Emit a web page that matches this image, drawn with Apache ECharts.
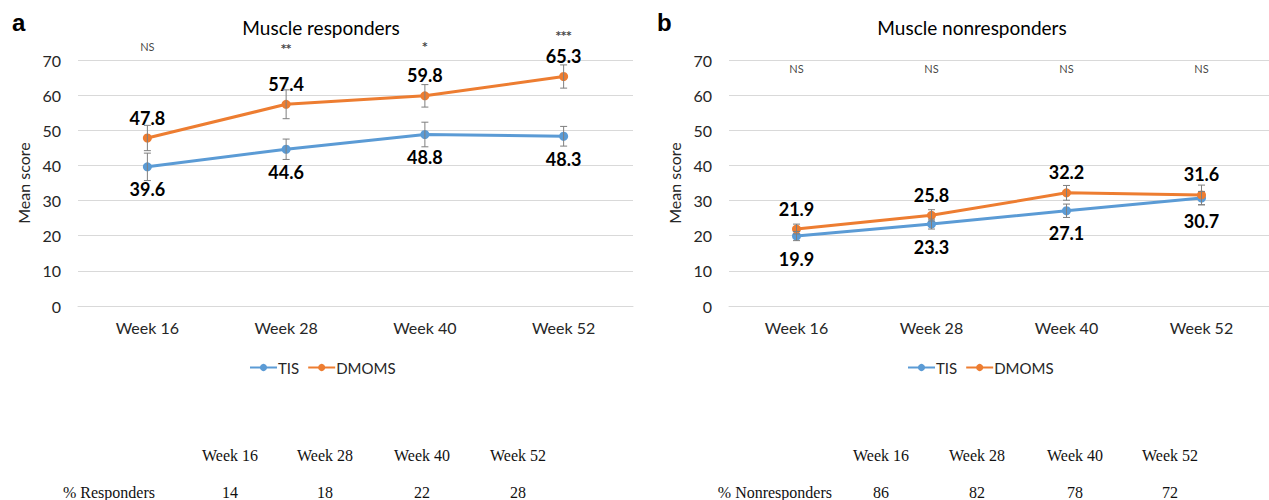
<!DOCTYPE html>
<html>
<head>
<meta charset="utf-8">
<script src="https://cdn.jsdelivr.net/npm/echarts@6/dist/echarts.min.js"></script>
<style>
html,body{margin:0;padding:0;background:#fff;}
#chart{width:1269px;height:500px;}
</style>
</head>
<body>
<div id="chart"></div>
<script>
// ---- data ----
const categories = ['Week 16', 'Week 28', 'Week 40', 'Week 52'];
const seriesNames = ['TIS', 'DMOMS'];
const respTIS = [39.6, 44.6, 48.8, 48.3];
const respDMOMS = [47.8, 57.4, 59.8, 65.3];
const respTISErr = [3.9, 2.9, 3.5, 2.8];
const respDMOMSErr = [3.6, 4.1, 3.2, 3.3];
const nonTIS = [19.9, 23.3, 27.1, 30.7];
const nonDMOMS = [21.9, 25.8, 32.2, 31.6];
const nonTISErr = [1.3, 1.4, 1.9, 1.9];
const nonDMOMSErr = [1.4, 1.6, 2.1, 2.8];
const respSig = ['NS', '**', '*', '***'];
const nonSig = ['NS', 'NS', 'NS', 'NS'];
const panelTitles = ['Muscle responders', 'Muscle nonresponders'];
const panelLetters = ['a', 'b'];
const yAxisName = 'Mean score';
const tableWeeks = ['Week 16', 'Week 28', 'Week 40', 'Week 52'];
const tableRowNames = ['% Responders', '% Nonresponders'];
const pctResponders = [14, 18, 22, 28];
const pctNonresponders = [86, 82, 78, 72];

// ---- styles / layout ----
const BLUE = '#5B9BD5', ORANGE = '#ED7D31', GREY = '#7f7f7f';
const FONT = 'Lato';
const grids = [
  {left: 78, top: 60, width: 555, height: 246},
  {left: 729, top: 60, width: 555, height: 246}
];

function errRender(params, api) {
  const x = api.value(0), y = api.value(1), e = api.value(2);
  const t = api.coord([x, y + e]);
  const b = api.coord([x, y - e]);
  const w = 3.5;
  const st = {stroke: GREY, lineWidth: 1};
  return {type: 'group', children: [
    {type: 'line', shape: {x1: t[0], y1: t[1], x2: b[0], y2: b[1]}, style: st},
    {type: 'line', shape: {x1: t[0] - w, y1: t[1], x2: t[0] + w, y2: t[1]}, style: st},
    {type: 'line', shape: {x1: b[0] - w, y1: b[1], x2: b[0] + w, y2: b[1]}, style: st}
  ]};
}

function lineSeries(name, color, data, idx, pos) {
  return {
    type: 'line', name: name, xAxisIndex: idx, yAxisIndex: idx,
    data: data, symbol: 'circle', symbolSize: 9,
    lineStyle: {color: color, width: 3}, itemStyle: {color: color},
    label: {show: true, position: pos, distance: pos === 'top' ? 7 : 9,
      color: '#000', fontFamily: FONT, fontWeight: 'bold', fontSize: 18,
      formatter: p => p.value.toFixed(1)},
    z: 3
  };
}
function errSeries(vals, errs, idx) {
  return {
    type: 'custom', xAxisIndex: idx, yAxisIndex: idx,
    renderItem: errRender, z: 5, silent: true,
    encode: {x: 0, y: 1},
    data: vals.map((v, i) => [i, v, errs[i]])
  };
}
function sigFmt(s) { return s === 'NS' ? '{ns|NS}' : '{st|' + s + '}'; }
function sigSeries(sig, levels, idx) {
  return {
    type: 'scatter', xAxisIndex: idx, yAxisIndex: idx, symbolSize: 0, clip: false, silent: true,
    data: sig.map((s, i) => ({value: [i, levels[i]], name: s})),
    label: {show: true, position: 'inside', formatter: p => sigFmt(p.name),
      rich: {
        ns: {fontFamily: FONT, fontSize: 11, color: '#111'},
        st: {fontFamily: 'DejaVu Sans', fontSize: 10, fontWeight: 'bold', color: '#111'}
      }}
  };
}

const sigLevelsA = [73.8, 73.4, 73.8, 77.0];
const sigLevelsB = [67.6, 67.6, 67.6, 67.6];

const xAxes = grids.map((g, i) => ({
  type: 'category', gridIndex: i, data: categories, boundaryGap: true,
  axisLine: {show: true, lineStyle: {color: '#d9d9d9', width: 1}},
  axisTick: {show: false},
  axisLabel: {color: '#262626', fontFamily: FONT, fontSize: 16, margin: 13}
}));
const yAxes = grids.map((g, i) => ({
  type: 'value', gridIndex: i, min: 0, max: 70, interval: 10,
  name: yAxisName, nameLocation: 'middle', nameRotate: 90, nameGap: 47,
  nameTextStyle: {color: '#262626', fontFamily: FONT, fontSize: 16},
  axisLine: {show: false}, axisTick: {show: false},
  axisLabel: {color: '#262626', fontFamily: FONT, fontSize: 16, margin: 17},
  splitLine: {lineStyle: {color: '#d9d9d9', width: 1}}
}));

const graphics = [];
const titleX = [321, 972];
panelTitles.forEach((t, i) => {
  graphics.push({type: 'text', x: titleX[i], y: 27,
    style: {text: t, fill: '#000', font: '19px ' + FONT, textAlign: 'center', textVerticalAlign: 'middle'}});
});
const letterX = [12, 657];
panelLetters.forEach((t, i) => {
  graphics.push({type: 'text', x: letterX[i], y: 22,
    style: {text: t, fill: '#000', font: 'bold 24px Liberation Sans', textAlign: 'left', textVerticalAlign: 'middle'}});
});
const tableCols = [[230, 325, 422, 518], [881, 977, 1075, 1170]];
const rowNameX = [155, 832];
const tableVals = [pctResponders, pctNonresponders];
const serif = '16px "Liberation Serif"';
[0, 1].forEach(p => {
  tableWeeks.forEach((w, i) => {
    graphics.push({type: 'text', x: tableCols[p][i], y: 455,
      style: {text: w, fill: '#111', font: serif, textAlign: 'center', textVerticalAlign: 'middle'}});
    graphics.push({type: 'text', x: tableCols[p][i], y: 492,
      style: {text: String(tableVals[p][i]), fill: '#111', font: serif, textAlign: 'center', textVerticalAlign: 'middle'}});
  });
  graphics.push({type: 'text', x: rowNameX[p], y: 492,
    style: {text: tableRowNames[p], fill: '#111', font: serif, textAlign: 'right', textVerticalAlign: 'middle'}});
});

const legendLeft = [244, 902];
const option = {
  animation: false,
  backgroundColor: '#fff',
  grid: grids,
  xAxis: xAxes,
  yAxis: yAxes,
  legend: legendLeft.map(l => ({
    data: seriesNames, left: l, top: 355, itemWidth: 27, itemHeight: 9, itemGap: 8,
    textStyle: {color: '#262626', fontFamily: FONT, fontSize: 15, padding: [0, 0, 0, -4]},
    selectedMode: false
  })),
  series: [
    lineSeries('TIS', BLUE, respTIS, 0, 'bottom'),
    lineSeries('DMOMS', ORANGE, respDMOMS, 0, 'top'),
    errSeries(respTIS, respTISErr, 0),
    errSeries(respDMOMS, respDMOMSErr, 0),
    sigSeries(respSig, sigLevelsA, 0),
    lineSeries('TIS', BLUE, nonTIS, 1, 'bottom'),
    lineSeries('DMOMS', ORANGE, nonDMOMS, 1, 'top'),
    errSeries(nonTIS, nonTISErr, 1),
    errSeries(nonDMOMS, nonDMOMSErr, 1),
    sigSeries(nonSig, sigLevelsB, 1)
  ],
  graphic: graphics
};
const chart = echarts.init(document.getElementById('chart'), null, {renderer: 'svg'});
chart.setOption(option);
</script>
</body>
</html>
